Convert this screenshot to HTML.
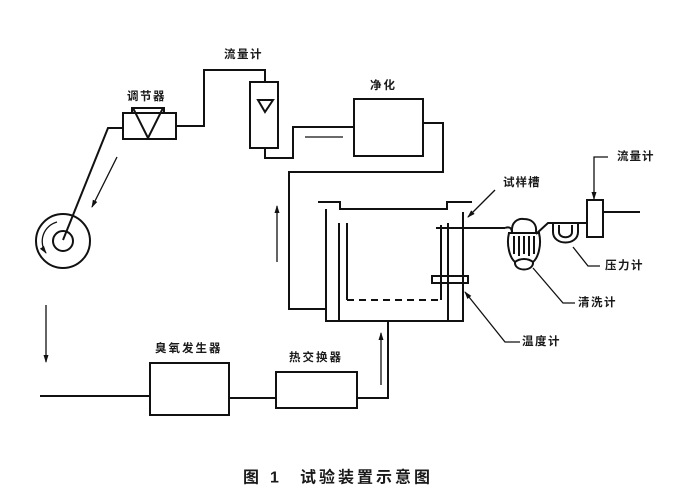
<!DOCTYPE html>
<html><head><meta charset="utf-8"><style>
html,body{margin:0;padding:0;background:#fff;}
svg{display:block;}
text{font-family:"Liberation Sans","Noto Sans CJK SC","WenQuanYi Zen Hei",sans-serif;font-weight:bold;fill:#1a1a1a;}
</style></head><body>
<svg width="678" height="500" viewBox="0 0 678 500" xmlns="http://www.w3.org/2000/svg">
<defs>
<marker id="ah" markerWidth="8" markerHeight="8" refX="7" refY="4" orient="auto" markerUnits="userSpaceOnUse">
<path d="M0,1.5 L8,4 L0,6.5 Z" fill="#111"/>
</marker>
</defs>
<rect width="678" height="500" fill="#fff"/>
<g fill="none" stroke="#111" stroke-width="2" stroke-linejoin="miter">
<!-- regulator -->
<rect x="123" y="113" width="53" height="26"/>
<path d="M132,113 V108 H164 V113"/>
<path d="M133,108 L148,138 L163,108"/>
<path d="M123,128 H108 L63,240"/>
<path d="M176,126 H204 V70 H265 V82"/>
<!-- flowmeter 1 -->
<rect x="250" y="82" width="28" height="66"/>
<path d="M258,100 H273 L265,112 Z"/>
<path d="M265,148 V158 H293 V127 H354"/>
<!-- purifier -->
<rect x="354" y="99" width="69" height="57"/>
<path d="M423,123 H443 V172 H289 V309 H326"/>
<!-- tank -->
<path d="M318,202 H340 V209 H447 V202 H472"/>
<path d="M326,209 V321 H463 V212"/>
<path d="M339,223 V321"/>
<path d="M347,223 V300"/>
<path d="M441,225 V300"/>
<path d="M448,223 V321"/>
<path d="M347,300 H441" stroke-dasharray="7,5"/>
<rect x="432" y="276" width="36" height="7"/>
<path d="M436,228 H505"/>
<!-- bottom -->
<path d="M388,321 V398 H357"/>
<rect x="276" y="372" width="81" height="36"/>
<path d="M276,398 H229"/>
<rect x="150" y="363" width="79" height="52"/>
<path d="M150,396 H40"/>
<!-- circle -->
<circle cx="63" cy="241" r="27"/>
<circle cx="63" cy="241" r="10"/>
<!-- washer -->
<path d="M505,228 C510,226 512,229 512,232"/>
<path d="M512,232 C511,222 518,218 524,219 C532,219 537,224 536,232"/>
<path d="M508,233 H540"/>
<path d="M509,233 C506,245 510,258 515,262"/>
<path d="M539,233 C542,245 538,258 533,262"/>
<path d="M514,236 V254 M519,236 V256 M524,236 V254 M529,236 V256 M534,236 V254"/>
<path d="M515,262 C514,272 534,272 533,262 C528,258 520,258 515,262"/>
<path d="M536,234 L548,223 H587"/>
<!-- U tube -->
<path d="M553,223 V232 C553,246 578,246 578,232 V223"/>
<path d="M559,225 V232 C559,239 572,239 572,232 V225"/>
<!-- flowmeter 2 -->
<rect x="587" y="200" width="16" height="37"/>
<path d="M603,212 H640"/>
</g>
<g fill="none" stroke="#111" stroke-width="1.3">
<path d="M305,137 H343"/>
<path d="M277,262 V206" marker-end="url(#ah)"/>
<path d="M381,385 V333" marker-end="url(#ah)"/>
<path d="M46,305 V362" marker-end="url(#ah)"/>
<path d="M117,157 L92,207" marker-end="url(#ah)"/>
<path d="M57,222 A20,20 0 0 0 46,253" marker-end="url(#ah)"/>
<path d="M608,157 H594 V199" marker-end="url(#ah)"/>
<path d="M600,266 H588 L573,247"/>
<path d="M575,303 H563 L533,268"/>
<path d="M520,342 H505 L465,292" marker-end="url(#ah)"/>
<path d="M495,190 L468,217" marker-end="url(#ah)"/>
</g>
<g font-size="11.5" dominant-baseline="central">
<text x="127" y="97" letter-spacing="1.5">调节器</text>
<text x="224" y="55" letter-spacing="1.5">流量计</text>
<text x="370" y="86" letter-spacing="2">净化</text>
<text x="503" y="183" letter-spacing="1">试样槽</text>
<text x="617" y="157" letter-spacing="1">流量计</text>
<text x="605" y="266" letter-spacing="1.5">压力计</text>
<text x="578" y="303" letter-spacing="1.5">清洗计</text>
<text x="522" y="342" letter-spacing="1.5">温度计</text>
<text x="155" y="349" letter-spacing="2">臭氧发生器</text>
<text x="289" y="358" letter-spacing="2">热交换器</text>
</g>
<text x="243" y="478" font-size="16" dominant-baseline="central">图</text>
<text x="270" y="478" font-size="16" dominant-baseline="central">1</text>
<text x="300" y="478" font-size="16" letter-spacing="3" dominant-baseline="central">试验装置示意图</text>
</svg>
</body></html>
